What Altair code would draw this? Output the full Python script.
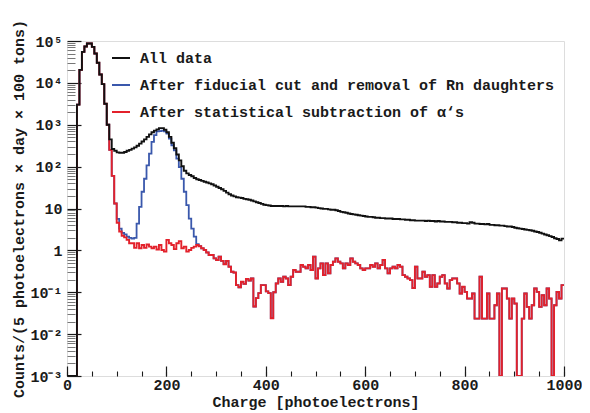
import altair as alt
import pandas as pd

# ---------------- axis ranges / binning ----------------
X_MIN, X_MAX, BIN = 0, 1000, 5
Y_MIN, Y_MAX = 1e-3, 1e5
bin_edges = list(range(X_MIN, X_MAX, BIN))          # lower edge of every 5-pe bin

SERIES = ["All data",
          "After fiducial cut and removal of Rn daughters",
          "After statistical subtraction of α‘s"]
COLORS = ["#111111", "#3a58ac", "#e3212b"]

# ---------------- data: log10(counts) per bin (None = empty bin) -------
all_data_log10 = [
    None, None, None, None, 3.48, 4.31, 4.74, 4.87, 4.94, 4.94,
    4.86, 4.70, 4.48, 4.20, 3.97, 3.50, 3.00, 2.65, 2.42, 2.38,
    2.34, 2.33, 2.33, 2.35, 2.38, 2.40, 2.43, 2.46, 2.50, 2.55,
    2.60, 2.65, 2.71, 2.77, 2.82, 2.86, 2.89, 2.92, 2.92, 2.88,
    2.82, 2.71, 2.57, 2.44, 2.29, 2.15, 2.01, 1.90, 1.84, 1.80,
    1.77, 1.73, 1.70, 1.68, 1.66, 1.64, 1.62, 1.60, 1.58, 1.55,
    1.52, 1.49, 1.46, 1.42, 1.38, 1.34, 1.31, 1.29, 1.27, 1.26,
    1.25, 1.23, 1.22, 1.21, 1.19, 1.17, 1.15, 1.13, 1.11, 1.09,
    1.08, 1.07, 1.06, 1.06, 1.06, 1.06, 1.06, 1.05, 1.06, 1.05,
    1.05, 1.05, 1.05, 1.05, 1.05, 1.05, 1.04, 1.04, 1.03, 1.03,
    1.02, 1.01, 1.00, 0.99, 0.99, 0.98, 0.97, 0.97, 0.96, 0.94,
    0.92, 0.91, 0.90, 0.88, 0.87, 0.86, 0.85, 0.84, 0.83, 0.82,
    0.81, 0.80, 0.80, 0.79, 0.78, 0.78, 0.77, 0.77, 0.76, 0.76,
    0.76, 0.75, 0.75, 0.75, 0.74, 0.74, 0.73, 0.73, 0.72, 0.72,
    0.71, 0.71, 0.71, 0.71, 0.70, 0.71, 0.70, 0.70, 0.69, 0.70,
    0.69, 0.69, 0.68, 0.68, 0.68, 0.67, 0.67, 0.66, 0.66, 0.65,
    0.65, 0.64, 0.67, 0.66, 0.64, 0.64, 0.63, 0.63, 0.62, 0.63,
    0.61, 0.61, 0.60, 0.60, 0.59, 0.59, 0.58, 0.57, 0.57, 0.56,
    0.54, 0.53, 0.52, 0.51, 0.50, 0.49, 0.48, 0.47, 0.45, 0.44,
    0.42, 0.40, 0.38, 0.36, 0.34, 0.32, 0.29, 0.27, 0.24, 0.28,
]

alpha_sub_log10 = [
    None, None, None, None, 3.48, 4.31, 4.74, 4.87, 4.94, 4.94,
    4.86, 4.70, 4.48, 4.20, 3.97, 3.50, 3.00, 2.40, 1.78, 1.12,
    0.66, 0.45, 0.35, 0.31, 0.25, 0.17, 0.17, 0.06, 0.17, 0.05,
    0.13, 0.06, 0.14, 0.09, 0.05, 0.09, 0.02, 0.13, 0.01, -0.03,
    0.25, 0.17, 0.13, 0.03, 0.17, 0.22, 0.05, 0.09, -0.03, 0.01,
    0.06, 0.09, 0.13, 0.10, 0.05, 0.01, -0.05, -0.11, -0.11, -0.19,
    -0.23, -0.15, -0.25, -0.33, -0.25, -0.39, -0.51, -0.53, -0.83, -0.88,
    -0.75, -0.80, -0.68, -0.72, -0.67, -1.34, -1.14, -1.02, -0.83, -0.83,
    -0.98, -1.02, -1.62, -1.00, -0.79, -0.67, -0.75, -0.63, -0.67, -0.83,
    -0.63, -0.47, -0.51, -0.51, -0.35, -0.39, -0.43, -0.35, -0.47, -0.15,
    -0.67, -0.43, -0.31, -0.59, -0.31, -0.55, -0.35, -0.27, -0.19, -0.27,
    -0.31, -0.43, -0.31, -0.35, -0.19, -0.27, -0.31, -0.35, -0.43, -0.47,
    -0.43, -0.43, -0.35, -0.39, -0.31, -0.43, -0.35, -0.23, -0.43, -0.55,
    -0.43, -0.39, -0.43, -0.35, -0.39, -0.59, -0.63, -0.67, -0.71, -0.90,
    -0.39, -0.67, -0.67, -0.51, -0.63, -0.59, -0.87, -0.59, -0.87, -0.79,
    -0.63, -0.59, -0.79, -0.91, -0.71, -0.67, -0.67, -0.79, -1.03, -0.87,
    -0.99, -1.15, -1.15, -1.03, -1.63, -1.63, -0.63, -1.63, -1.63, -1.03,
    -1.63, -1.63, -1.31, -1.03, None, -0.91, -0.91, -1.15, -1.63, -1.15,
    -1.27, None, None, -1.63, -1.03, -1.35, -1.63, -1.31, -0.91, -0.99,
    -1.35, -1.07, -1.31, -0.91, -1.15, None, -1.31, -0.99, -1.15, -0.83,
]

# fiducial-cut spectrum differs from the alpha-subtracted one only for bins 100-260 pe
fiducial_core_log10 = [
    0.75, 0.52, 0.42, 0.38, 0.33, 0.30, 0.28, 0.30, 0.64, 1.04,
    1.40, 1.71, 2.03, 2.31, 2.59, 2.75, 2.84, 2.85, 2.86, 2.84,
    2.79, 2.67, 2.51, 2.39, 2.19, 1.99, 1.71, 1.40, 1.08, 0.76,
    0.52, 0.33, 0.15,
]
fiducial_log10 = alpha_sub_log10[:20] + fiducial_core_log10 + alpha_sub_log10[53:]

assert len(all_data_log10) == len(alpha_sub_log10) == len(fiducial_log10) == len(bin_edges)

# ---------------- ticks ----------------
y_tick_values = [1e-3, 1e-2, 1e-1, 1, 10, 1e2, 1e3, 1e4, 1e5]
y_tick_labels = ["10⁻³", "10⁻²", "10⁻¹", "1", "10", "10²", "10³", "10⁴", "10⁵"]
y_minor_values = [m * 10.0 ** e for e in range(-3, 5) for m in range(2, 10)]
x_major_values = [0, 200, 400, 600, 800, 1000]
x_minor_values = list(range(0, 1001, 50))

label_expr = "".join(
    f"datum.value < {v * 3} ? '{lab}' : " for v, lab in zip(y_tick_values, y_tick_labels)
) + "''"

# ---------------- table ----------------
rows = []
for name, vals in zip(SERIES, [all_data_log10, fiducial_log10, alpha_sub_log10]):
    for x, v in zip(bin_edges, vals):
        c = 0.0 if v is None else 10.0 ** v
        rows.append({"series": name, "charge": x, "counts": max(c, Y_MIN)})
    rows.append({"series": name, "charge": X_MAX, "counts": rows[-1]["counts"]})
df = pd.DataFrame(rows)

FONT = "Liberation Mono"
TXT = "#1a1a1a"

xscale = alt.Scale(domain=[X_MIN, X_MAX], nice=False, zero=False)
yscale = alt.Scale(type="log", domain=[Y_MIN, Y_MAX], nice=False, clamp=True)

x_major = alt.Axis(orient="bottom", values=x_major_values, format="d", tickSize=10, offset=-10,
                   domain=False, grid=False, tickColor=TXT, tickWidth=1.2,
                   labelFont=FONT, labelFontSize=15, labelFontWeight="bold", labelColor=TXT,
                   labelPadding=1, labelFlush=False,
                   title="Charge [photoelectrons]", titleFont=FONT, titleFontSize=15,
                   titleFontWeight="bold", titleColor=TXT, titlePadding=2)
x_minor = alt.Axis(orient="bottom", values=x_minor_values, tickSize=5, offset=-5, labels=False,
                   domain=False, grid=False, tickColor=TXT, tickWidth=1.1, title=None)
y_major = alt.Axis(orient="left", values=y_tick_values, labelExpr=label_expr, tickSize=14,
                   offset=-14, domain=False, grid=False, tickColor=TXT, tickWidth=1.2,
                   labelFont=FONT, labelFontSize=15, labelFontWeight="bold", labelColor=TXT,
                   labelPadding=5,
                   title="Counts/(5 photoelectrons × day × 100 tons)", titleFont=FONT,
                   titleFontSize=15, titleFontWeight="bold", titleColor=TXT, titlePadding=3)
y_minor = alt.Axis(orient="left", values=y_minor_values, tickSize=8, offset=-8, labels=False,
                   domain=False, grid=False, tickColor="#777777", tickWidth=1, title=None)

color = alt.Color(
    "series:N",
    scale=alt.Scale(domain=SERIES, range=COLORS),
    legend=alt.Legend(title=None, orient="none", legendX=44, legendY=7, padding=0,
                      symbolType="stroke", symbolSize=324, symbolStrokeWidth=2,
                      labelFont=FONT, labelFontSize=15, labelFontWeight="bold",
                      labelColor=TXT, labelOffset=9, rowPadding=9, labelLimit=700),
)


def hist_layer(name, xaxis, yaxis, width):
    return (
        alt.Chart(df)
        .transform_filter(alt.datum.series == name)
        .mark_line(interpolate="step-after", strokeWidth=width, clip=True,
                   strokeJoin="miter", strokeCap="butt")
        .encode(
            x=alt.X("charge:Q", scale=xscale, axis=xaxis),
            y=alt.Y("counts:Q", scale=yscale, axis=yaxis),
            color=color,
        )
    )


blue = hist_layer(SERIES[1], x_major, y_major, 1.8)
red = hist_layer(SERIES[2], x_minor, y_minor, 1.9)
black = hist_layer(SERIES[0], None, None, 1.9)

chart = (
    alt.layer(blue, red, black)
    .resolve_axis(x="independent", y="independent")
    .properties(width=497, height=335,
                autosize=alt.AutoSizeParams(type="none"),
                padding={"left": 59, "top": 33, "right": 18, "bottom": 37})
    .configure_view(stroke="#222222", strokeWidth=1.2)
    .configure(background="white")
)

chart.save("out.html", embed_options={"renderer": "svg", "actions": False})
